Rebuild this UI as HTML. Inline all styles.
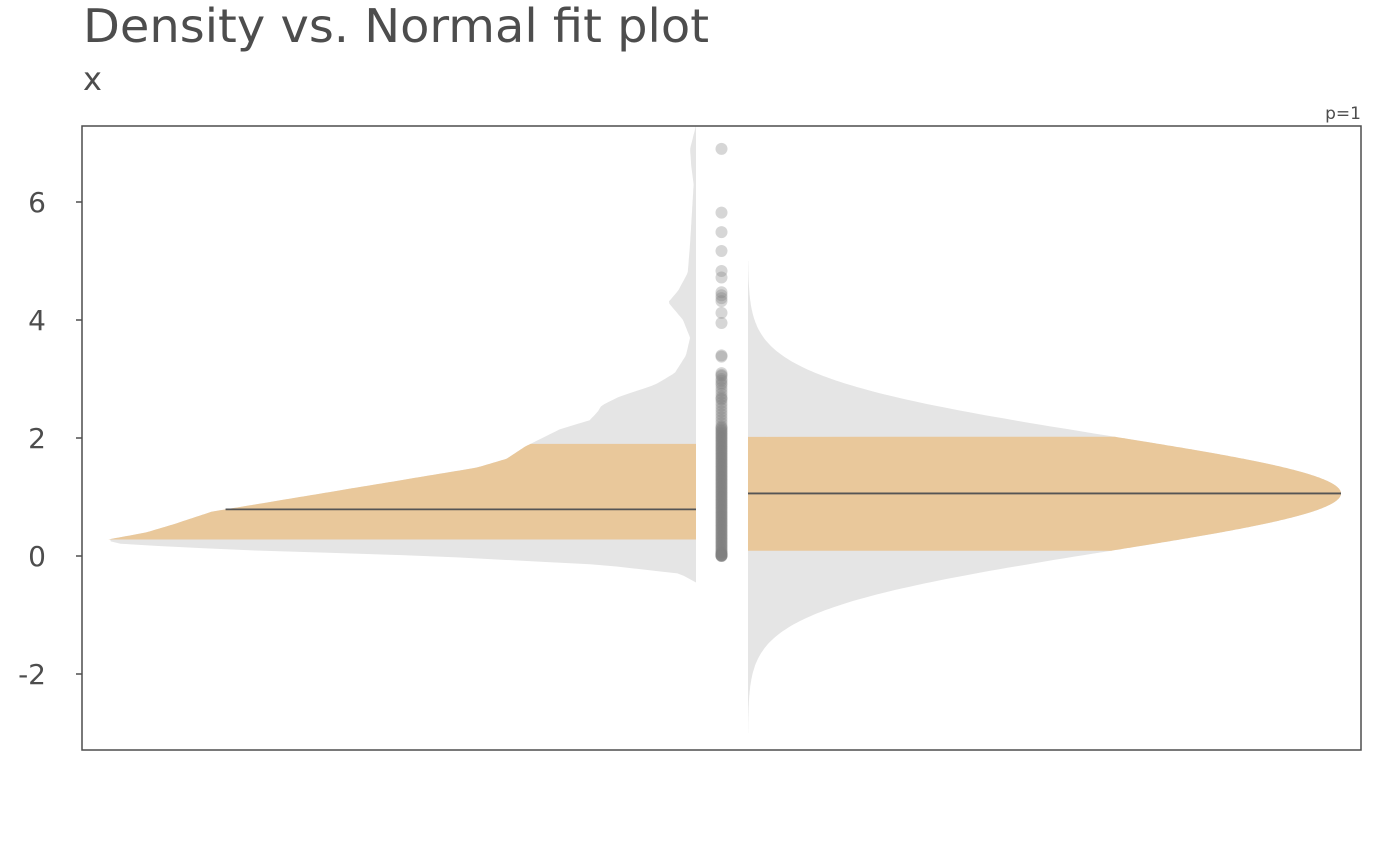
<!DOCTYPE html>
<html><head><meta charset="utf-8"><style>
html,body{margin:0;padding:0;background:#fff;}
svg{display:block;font-family:"DejaVu Sans","Liberation Sans",sans-serif;}
</style></head><body>
<svg id="chart" width="1400" height="866" viewBox="0 0 1400 866">
<text x="83" y="42" font-size="46" fill="#4d4d4d" textLength="626" lengthAdjust="spacingAndGlyphs">Density vs. Normal fit plot</text>
<text x="83" y="90" font-size="32" fill="#4d4d4d">x</text>
<text x="1361" y="119" font-size="17" fill="#4d4d4d" text-anchor="end">p=1</text>
<defs><clipPath id="clip"><rect x="82" y="126" width="1279" height="624"/></clipPath></defs>
<g id="marks" clip-path="url(#clip)"></g>
<g id="axis"></g>
<rect x="82" y="126" width="1279" height="624" fill="none" stroke="#4d4d4d" stroke-width="1.5"/>
</svg>
<script>
// Empirical density (left violin): y values and relative density
const densY = [-0.45,-0.3,-0.15,0,0.1,0.2,0.27,0.4,0.55,0.75,1.0,1.25,1.5,1.65,1.85,2.0,2.15,2.3,2.45,2.55,2.7,2.9,3.1,3.4,3.7,4.0,4.3,4.5,4.8,5.3,5.8,6.3,6.6,6.9,7.3];
const densV = [0,0.027,0.16,0.45,0.77,0.97,1.0,0.93,0.88,0.82,0.67,0.52,0.37,0.32,0.29,0.26,0.23,0.18,0.166,0.16,0.13,0.07,0.036,0.017,0.01,0.022,0.047,0.03,0.014,0.01,0.007,0.004,0.008,0.01,0];
const empQuant = [0.28, 0.79, 1.9]; // q25, median, q75
// Normal fit (right side)
const normMean = [1.06];
const normSd = [0.98];
const normRange = [-3, 5];
const normQuant = [0.09, 1.06, 2.02];
// Observations
const points = [6.9,5.82,5.49,5.17,4.83,4.72,4.47,4.42,4.37,4.32,4.12,3.95,3.4,3.38,3.1,3.07,3.05,3.0,2.97,2.93,2.9,2.85,2.8,2.75,2.7,2.67,2.65,2.6,2.55,2.5,2.45,2.4,2.35,2.3,2.25,
2.2,2.18,2.16,2.14,2.12,2.1,2.08,2.06,2.04,2.02,2.0,1.98,1.96,1.94,1.92,1.9,1.88,1.86,1.84,1.82,1.8,1.78,1.76,1.74,1.72,1.7,1.68,1.66,1.64,1.62,1.6,1.58,1.56,1.54,1.52,1.5,
1.48,1.46,1.44,1.42,1.4,1.38,1.36,1.34,1.32,1.3,1.28,1.26,1.24,1.22,1.2,1.18,1.16,1.14,1.12,1.1,1.08,1.06,1.04,1.02,1.0,0.98,0.96,0.94,0.92,0.9,0.88,0.86,0.84,0.82,0.8,
0.78,0.76,0.74,0.72,0.7,0.68,0.66,0.64,0.62,0.6,0.58,0.56,0.54,0.52,0.5,0.48,0.46,0.44,0.42,0.4,0.38,0.36,0.34,0.32,0.3,0.28,0.26,0.24,0.22,0.2,0.18,0.16,0.14,0.12,0.1,
0.08,0.06,0.05,0.04,0.03,0.02,0.01,0.005,0.0,0.0,0.01,0.02];
const yTicks = [-2,0,2,4,6];

const NS='http://www.w3.org/2000/svg';
const y = v => 556 - 59*v;
const leftX0 = 696, leftW = 591, rightX0 = 748, rightW = 593, ptX = 721.5;
function mk(tag, attrs, parent){const e=document.createElementNS(NS,tag);for(const k in attrs)e.setAttribute(k,attrs[k]);parent.appendChild(e);return e;}
const marks=document.getElementById('marks'), axis=document.getElementById('axis');

function densAt(v){for(let i=0;i<densY.length-1;i++){if(v>=densY[i]&&v<=densY[i+1]){const t=(v-densY[i])/(densY[i+1]-densY[i]);return densV[i]+t*(densV[i+1]-densV[i]);}}return 0;}
function leftPath(lo,hi){let d='M'+leftX0+','+y(lo);const n=200;for(let i=0;i<=n;i++){const v=lo+(hi-lo)*i/n;d+=' L'+(leftX0-leftW*densAt(v)).toFixed(1)+','+y(v).toFixed(1);}d+=' L'+leftX0+','+y(hi)+' Z';return d;}
const nd = v => Math.exp(-Math.pow(v-normMean[0],2)/(2*normSd[0]*normSd[0]));
function rightPath(lo,hi){let d='M'+rightX0+','+y(lo);const n=300;for(let i=0;i<=n;i++){const v=lo+(hi-lo)*i/n;d+=' L'+(rightX0+rightW*nd(v)).toFixed(1)+','+y(v).toFixed(1);}d+=' L'+rightX0+','+y(hi)+' Z';return d;}

let e;
e=mk('path',{d:leftPath(densY[0],densY[densY.length-1]),fill:'#e5e5e5'},marks);


e=mk('path',{d:leftPath(empQuant[0],empQuant[2]),fill:'#e9c89b'},marks);


e=mk('line',{x1:leftX0-leftW*densAt(empQuant[1]),x2:leftX0,y1:y(empQuant[1]),y2:y(empQuant[1]),stroke:'#555',"stroke-width":1.8},marks);


e=mk('path',{d:rightPath(normRange[0],normRange[1]),fill:'#e5e5e5'},marks);


e=mk('path',{d:rightPath(normQuant[0],normQuant[2]),fill:'#e9c89b'},marks);


e=mk('line',{x1:rightX0,x2:rightX0+rightW*nd(normQuant[1]),y1:y(normQuant[1]),y2:y(normQuant[1]),stroke:'#555',"stroke-width":1.8},marks);


points.forEach(v=>{
  const c=mk('circle',{cx:ptX,cy:y(v),r:6,fill:'#7f7f7f','fill-opacity':0.32},marks);
  
  
});
yTicks.forEach(t=>{
  const l=mk('line',{x1:76,x2:82,y1:y(t),y2:y(t),stroke:'#4d4d4d','stroke-width':1.5},axis);
  
  
  const tx=mk('text',{x:46,y:y(t)+10,'font-size':28,fill:'#4d4d4d','text-anchor':'end'},axis);
  tx.textContent=t;
  
  
});
</script>
</body></html>
